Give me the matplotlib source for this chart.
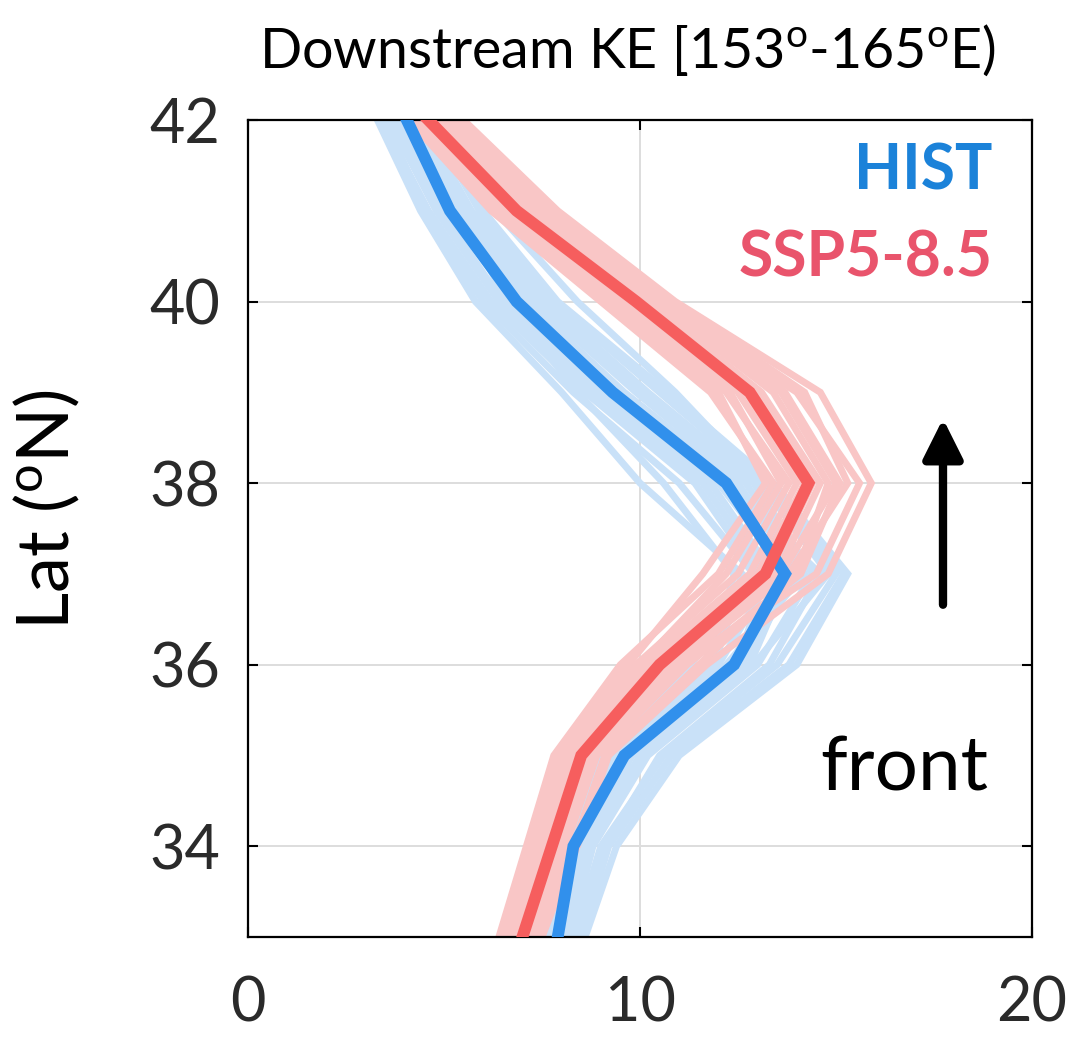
import matplotlib
matplotlib.use("Agg")
import matplotlib.pyplot as plt
from matplotlib.patches import ArrowStyle

plt.rcParams['font.family'] = ['Lato', 'DejaVu Sans']
plt.rcParams['mathtext.default'] = 'regular'

# ---------------- data ----------------
lat = [33, 34, 35, 36, 37, 38, 39, 40, 41, 42]

hist_mean = [7.9, 8.3, 9.6, 12.4, 13.7, 12.2, 9.3, 6.85, 5.15, 4.05]
ssp_mean = [7.0, 7.75, 8.5, 10.5, 13.2, 14.3, 12.8, 9.9, 6.85, 4.6]

hist_members = [
    [7.6, 8.0, 9.2, 11.6, 13.0, 11.4, 8.6, 6.2, 4.6, 3.4],
    [7.8, 8.2, 9.4, 12.0, 13.4, 11.8, 9.0, 6.5, 4.9, 3.7],
    [8.0, 8.5, 9.8, 12.6, 14.0, 12.5, 9.6, 7.1, 5.3, 4.1],
    [8.2, 8.8, 10.2, 13.0, 14.4, 12.9, 10.0, 7.5, 5.6, 4.3],
    [8.5, 9.2, 10.8, 13.8, 15.2, 13.2, 10.5, 7.8, 5.9, 4.6],
    [7.7, 8.1, 9.3, 11.9, 12.6, 10.0, 8.0, 5.8, 4.4, 3.3],
    [8.1, 8.6, 10.0, 12.8, 13.8, 12.0, 9.2, 6.8, 5.1, 3.9],
    [7.9, 8.4, 9.7, 12.3, 13.6, 12.4, 9.5, 7.0, 5.2, 4.0],
    [8.3, 9.0, 10.6, 13.5, 15.0, 13.0, 10.2, 7.6, 5.7, 4.4],
    [7.5, 7.9, 9.0, 11.3, 12.9, 11.0, 8.3, 6.0, 4.5, 3.5],
    [8.0, 8.3, 9.5, 12.2, 14.2, 12.7, 9.9, 7.3, 5.5, 4.2],
    [8.4, 9.1, 10.5, 13.3, 14.6, 12.2, 9.4, 6.9, 5.0, 3.8],
    [7.8, 8.2, 9.6, 12.5, 13.2, 11.6, 8.8, 6.4, 4.8, 3.6],
    [8.6, 9.4, 11.0, 14.0, 15.3, 13.4, 10.7, 7.9, 6.0, 4.7],
    [7.9, 8.3, 9.4, 11.8, 12.4, 10.6, 8.4, 6.6, 5.4, 4.4],
    [8.2, 8.7, 10.1, 12.9, 14.8, 13.1, 10.9, 8.4, 6.3, 4.5],
]

ssp_members = [
    [6.4, 7.1, 7.8, 9.5, 12.0, 13.4, 11.8, 9.0, 6.2, 4.1],
    [6.6, 7.3, 8.0, 9.9, 12.5, 13.8, 12.2, 9.4, 6.5, 4.3],
    [6.8, 7.5, 8.3, 10.3, 13.0, 14.2, 12.7, 9.8, 6.8, 4.5],
    [7.0, 7.8, 8.6, 10.7, 13.5, 14.6, 13.1, 10.2, 7.1, 4.8],
    [7.3, 8.1, 8.9, 11.2, 14.1, 15.1, 13.7, 10.6, 7.5, 5.1],
    [7.5, 8.4, 9.2, 11.7, 14.8, 15.9, 14.6, 10.9, 7.9, 5.5],
    [6.5, 7.2, 7.9, 9.7, 11.6, 13.2, 12.0, 9.2, 6.3, 4.2],
    [7.1, 7.9, 8.7, 10.9, 13.8, 15.3, 14.2, 10.8, 7.7, 5.3],
    [6.9, 7.6, 8.4, 10.4, 13.3, 14.4, 12.9, 10.0, 7.0, 4.6],
    [7.2, 8.0, 8.8, 11.0, 14.5, 15.6, 14.0, 10.5, 7.4, 5.0],
    [6.7, 7.4, 8.2, 10.1, 12.8, 14.0, 12.5, 9.6, 6.6, 4.4],
    [7.4, 8.3, 9.1, 11.5, 14.0, 14.8, 13.4, 10.4, 7.3, 4.9],
    [6.8, 7.5, 8.1, 10.0, 12.2, 13.6, 12.3, 9.5, 6.7, 4.5],
    [7.0, 7.7, 8.5, 10.6, 13.6, 15.0, 13.6, 10.3, 7.2, 4.7],
]

xticks = [0, 10, 20]
yticks = [34, 36, 38, 40, 42]

# ---------------- figure ----------------
fig = plt.figure(figsize=(10.88, 10.46), dpi=100)
ax = fig.add_axes([0.228, 0.1042, 0.7205, 0.7811])

c_hist_light = '#c9e1f8'
c_ssp_light = '#f9c6c6'
c_hist = '#3190ec'
c_ssp = '#f65e5e'

for m in hist_members:
    ax.plot(m, lat, color=c_hist_light, lw=5.0, solid_joinstyle='miter', zorder=2)
for m in ssp_members:
    ax.plot(m, lat, color=c_ssp_light, lw=5.0, solid_joinstyle='miter', zorder=2.1)
ax.plot(hist_mean, lat, color=c_hist, lw=8.5, solid_joinstyle='miter', zorder=3)
ax.plot(ssp_mean, lat, color=c_ssp, lw=8.5, solid_joinstyle='miter', zorder=3.1)

ax.set_xlim(0, 20)
ax.set_ylim(33, 42)
ax.set_xticks(xticks)
ax.set_yticks(yticks)
ax.set_xticklabels([str(v) for v in xticks])
ax.set_yticklabels([str(v) for v in yticks])

ax.grid(True, color='#dddddd', lw=1.4, zorder=0)
ax.set_axisbelow(True)
ax.tick_params(direction='in', length=7, width=1.5, top=True, right=True,
               labelsize=44, colors='#000000', labelcolor='#2a2a2a')
ax.tick_params(axis='x', pad=28)
ax.tick_params(axis='y', pad=20)
for s in ax.spines.values():
    s.set_linewidth(1.6)
    s.set_color('#000000')

ax.set_ylabel('Lat ($^{o}$N)', fontsize=52, color='#000000')
ax.yaxis.set_label_coords(-0.212, 0.523)

fig.text(0.577, 0.952, 'Downstream KE [153$^{o}$-165$^{o}$E)', fontsize=40,
         fontweight='normal', ha='center', va='center', color='#000000')

ax.text(19.0, 41.43, 'HIST', color='#1b82d9', fontsize=45, fontweight='bold',
        ha='right', va='center', zorder=5)
ax.text(19.0, 40.47, 'SSP5-8.5', color='#e9546c', fontsize=45, fontweight='bold',
        ha='right', va='center', zorder=5)

ax.annotate('', xy=(17.73, 38.71), xytext=(17.73, 36.66),
            arrowprops=dict(arrowstyle=ArrowStyle('-|>', head_length=1.2, head_width=0.6),
                            mutation_scale=20, lw=6, color='k',
                            shrinkA=0, shrinkB=0), zorder=5)
ax.text(16.73, 34.61, 'front', fontsize=55, ha='center', va='baseline',
        color='#000000', zorder=5)

fig.savefig('out.png', dpi=100)
